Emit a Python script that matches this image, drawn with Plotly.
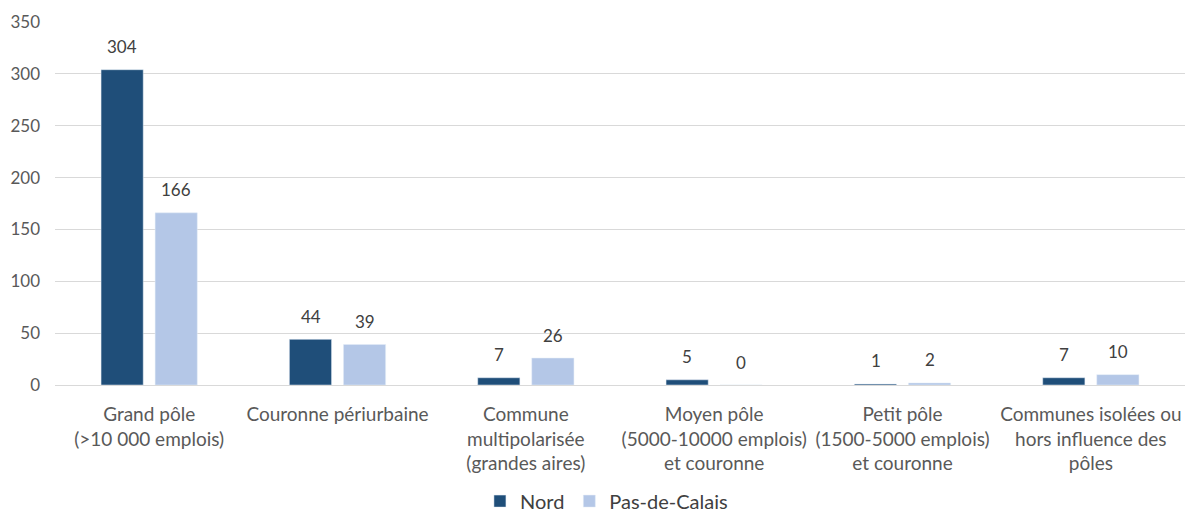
import plotly.graph_objects as go

categories = [
    "Grand pôle<br>(>10 000 emplois)",
    "Couronne périurbaine",
    "Commune<br>multipolarisée<br>(grandes aires)",
    "Moyen pôle<br>(5000-10000 emplois)<br>et couronne",
    "Petit pôle<br>(1500-5000 emplois)<br>et couronne",
    "Communes isolées ou<br>hors influence des<br>pôles",
]
nord = [304, 44, 7, 5, 1, 7]
pas_de_calais = [166, 39, 26, 0, 2, 10]

series = [
    ("Nord", nord, "#1F4E79", -27),
    ("Pas-de-Calais", pas_de_calais, "#B4C7E7", 27),
]

font_family = "Lato, 'Open Sans', sans-serif"

fig = go.Figure()
for name, values, color, shift in series:
    fig.add_trace(go.Bar(name=name, x=categories, y=values, marker=dict(color=color)))
    # value labels floating above each bar
    for cat, v in zip(categories, values):
        fig.add_annotation(
            x=cat, y=v, xref="x", yref="y", text=str(v), showarrow=False,
            xshift=shift, yshift=23, yanchor="middle",
            font=dict(size=17, color="#404040", family=font_family),
        )

fig.update_layout(
    width=1185, height=515,
    margin=dict(l=55, r=0, t=22, b=130, autoexpand=False),
    paper_bgcolor="white", plot_bgcolor="white",
    barmode="group", bargap=0.426, bargroupgap=0.22,
    font=dict(family=font_family, size=16, color="#595959"),
    showlegend=True,
    legend=dict(orientation="h", x=0.488, xanchor="center",
                yref="container", y=0.027, yanchor="middle",
                font=dict(size=20, color="#404040"), itemwidth=30),
)
fig.update_xaxes(showgrid=False, showline=False, ticks="", automargin=False,
                 tickfont=dict(size=19, color="#595959"), ticklabelstandoff=16)
fig.update_yaxes(range=[0, 350], dtick=50, showgrid=True, gridcolor="#D9D9D9", gridwidth=1,
                 zeroline=True, zerolinecolor="#D9D9D9", zerolinewidth=1, automargin=False,
                 tickfont=dict(size=17, color="#595959"), ticklabelstandoff=14)

fig.write_html("out.html")
